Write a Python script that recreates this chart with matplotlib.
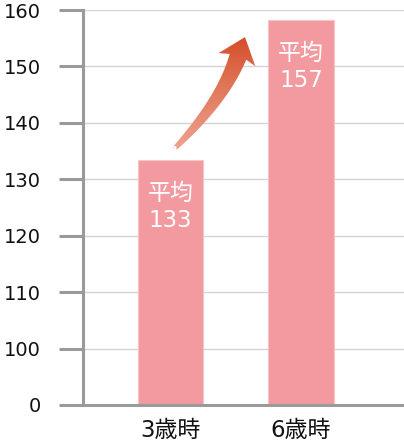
import numpy as np
import matplotlib
matplotlib.use('Agg')
from matplotlib import pyplot as plt
from matplotlib.patches import Polygon
from matplotlib.colors import LinearSegmentedColormap

plt.rcParams['font.family'] = ['DejaVu Sans', 'Noto Sans CJK JP']

categories = ['3歳時', '6歳時']
heights = [133.4, 158.2]
averages = [133, 157]
yticks = [90, 100, 110, 120, 130, 140, 150, 160]
ytick_labels = ['0', '100', '110', '120', '130', '140', '150', '160']

bar_color = '#f29aa0'
axis_gray = '#9a9a9a'

fig = plt.figure(figsize=(4.04, 4.45), dpi=100)
ax = fig.add_axes([83 / 404, 40 / 445, 321 / 404, 395 / 445])

x = np.arange(len(categories))
ax.bar(x, [h - 90 for h in heights], bottom=90, width=0.5,
       color=bar_color, edgecolor='#f7c4c7', linewidth=0.8, zorder=2)

for xi, h, avg in zip(x, heights, averages):
    ax.annotate('平均', (xi, h), xytext=(0, -15.5), textcoords='offset points',
                ha='center', va='top', color='white', fontsize=16.5, zorder=4)
    ax.annotate(str(avg), (xi, h), xytext=(0, -35.5), textcoords='offset points',
                ha='center', va='top', color='white', fontsize=16.5, zorder=4)

ax.set_xlim(-0.670, 1.789)
ax.set_ylim(90, 160)

# curved gradient arrow (built in pixel space, drawn in data space)
tail, ctrl, base, tip = [(0.034, 135.5), (0.402, 144.1), (0.517, 151.7), (0.571, 155.2)]
P0, P1, P2, PT = ax.transData.transform([tail, ctrl, base, tip])
t = np.linspace(0, 1, 60)[:, None]
curve = (1 - t) ** 2 * P0 + 2 * (1 - t) * t * P1 + t ** 2 * P2
deriv = 2 * (1 - t) * (P1 - P0) + 2 * t * (P2 - P1)
tang = deriv / np.linalg.norm(deriv, axis=1, keepdims=True)
norm = np.column_stack([-tang[:, 1], tang[:, 0]])
w = (4.5 + 13 * t ** 0.8) / 2
left = curve + norm * w
right = curve - norm * w
hd = (PT - P2) / np.linalg.norm(PT - P2)
hn = np.array([-hd[1], hd[0]])
head_l = P2 + hn * 19.5 - hd * 3
head_r = P2 - hn * 19.5 - hd * 3
cap = [P0 + 2.2 * (np.cos(a) * norm[0] - np.sin(a) * tang[0]) for a in np.linspace(np.pi / 2, -np.pi / 2, 7)]
pts = np.vstack([left, [head_l, PT, head_r], right[::-1], cap[::-1]])
pts = ax.transData.inverted().transform(pts)
arrow = Polygon(pts, closed=True, facecolor='none', edgecolor='none', zorder=3)
ax.add_patch(arrow)
cmap = LinearSegmentedColormap.from_list('arr', ['#eea391', '#e27c5f', '#d44e2a'])
grad = np.linspace(0, 1, 256).reshape(-1, 1)
img = ax.imshow(grad, cmap=cmap, origin='lower', aspect='auto',
                extent=[pts[:, 0].min(), pts[:, 0].max(), pts[:, 1].min(), pts[:, 1].max()],
                zorder=3)
img.set_clip_path(arrow)

ax.set_xlim(-0.670, 1.789)
ax.set_ylim(90, 160)
ax.set_yticks(yticks)
ax.set_yticklabels(ytick_labels)
ax.set_xticks(x)
ax.set_xticklabels(categories)

ax.grid(axis='y', color='#d4d4d4', linewidth=1.0)
ax.set_axisbelow(True)
for side in ['top', 'right']:
    ax.spines[side].set_visible(False)
for side in ['left', 'bottom']:
    ax.spines[side].set_color(axis_gray)
    ax.spines[side].set_linewidth(2.2)
ax.tick_params(axis='y', length=17.3, width=2.2, color=axis_gray,
               pad=13, labelsize=14, labelcolor='#111111')
ax.tick_params(axis='x', length=0, pad=10, labelsize=16.5, labelcolor='#111111')

fig.savefig('out.png', dpi=100)
